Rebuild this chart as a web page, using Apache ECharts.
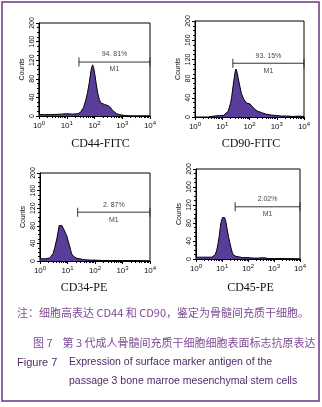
<!DOCTYPE html>
<html>
<head>
<meta charset="utf-8">
<script src="https://cdn.jsdelivr.net/npm/echarts@6/dist/echarts.min.js"></script>
<style>
  html, body { margin: 0; padding: 0; background: #fff; }
  #chart { width: 322px; height: 407px; }
</style>
</head>
<body>
<div id="chart"></div>
<script>
// fluorescence channel values (log scale) and event counts
const cd44X = [1, 1.02, 1.58, 3.16, 6.3, 10, 15.8, 25, 31.6, 40, 48, 56, 65, 76, 85, 93, 102, 115, 129, 148, 170, 200, 229, 263, 316, 380, 447, 525, 631, 794, 1000, 1259, 1995, 10000];
const cd44Counts = [80, 3, 3, 3, 4, 5, 4, 5, 8, 18, 33, 50, 72, 100, 110, 104, 91, 70, 51, 36, 28, 27, 25, 27, 22, 18, 12, 8, 5, 3, 2, 1, 0, 0];

const cd90X = [3.2, 3.5, 5, 8, 11, 13, 16.6, 20, 22, 25, 29.5, 31.6, 34.7, 39, 45, 51, 63, 78, 89, 105, 126, 158, 200, 282, 398, 646, 1000, 1514, 2512, 3981, 6310, 10000];
const cd90Counts = [0, 2, 2, 3, 3, 6, 12, 28, 40, 65, 93, 100, 94, 79, 62, 48, 36, 29, 28, 27, 22, 16, 12, 9, 6, 4, 3, 2, 2, 1, 2, 1];

const cd34X = [1, 1.02, 1.58, 2.3, 2.6, 3, 3.5, 4.1, 4.6, 5, 5.6, 6.3, 7.1, 8.1, 9.3, 10.5, 11.7, 12.9, 14, 16.2, 18.6, 22, 28, 40, 66, 100, 200, 400, 1000, 3162, 10000];
const cd34Counts = [100, 5, 5, 7, 11, 17, 32, 51, 68, 81, 85, 80, 74, 66, 58, 46, 36, 26, 17, 11, 8, 6, 5, 3, 2, 2, 1, 1, 1, 1, 0];

const cd45X = [1, 1.02, 1.58, 2.5, 4.1, 4.7, 5.5, 6.3, 7.1, 7.8, 8.5, 9.3, 10.5, 11.5, 12.6, 14.1, 15.8, 17.8, 20, 22.4, 25, 27.5, 34, 43, 63, 100, 158, 251, 398, 631, 1000, 3162, 10000];
const cd45Counts = [101, 4, 4, 4, 4, 5, 10, 20, 35, 50, 68, 83, 92, 96, 92, 83, 66, 50, 36, 24, 14, 9, 6, 5, 3, 3, 2, 2, 3, 1, 1, 1, 0];

// M1 gates: [start, end] channel and the count level where the bar sits
const gateRanges = [[27.5, 10000], [24.5, 10000], [23.4, 10000], [32, 10000]];
const gateLevels = [116, 112, 111, 116];
const gatePercents = ['94. 81%', '93. 15%', '2. 87%', '2.02%'];
const markerNames = ['CD44-FITC', 'CD90-FITC', 'CD34-PE', 'CD45-PE'];
const yTicks = [0, 40, 80, 120, 160, 200];

const fillColor = '#5a3c9a';
const frameColor = '#6b3582';

const myChart = echarts.init(document.getElementById('chart'));

const gridList = [
  { left: 39, top: 23, width: 111, height: 93 },
  { left: 195, top: 21, width: 109, height: 96 },
  { left: 40, top: 173, width: 110, height: 88 },
  { left: 196, top: 169, width: 104, height: 90 },
];
// name offsets to match where the captions sit under each plot
const namePads = [[0, 0, 0, 12], [0, 0, 0, 3], [0, 22, 0, 0], [0, 0, 0, 5]];
const nameGaps = [22, 21, 21, 23];

const histX = [cd44X, cd90X, cd34X, cd45X];
const histY = [cd44Counts, cd90Counts, cd34Counts, cd45Counts];

let xAxes = [];
let yAxes = [];
let series = [];
for (let i = 0; i < 4; i++) {
  gridList[i].show = true;
  gridList[i].borderColor = '#000';
  gridList[i].borderWidth = 1;
  gridList[i].backgroundColor = '#fff';

  xAxes.push({
    type: 'log',
    logBase: 10,
    min: 1,
    max: 10000,
    gridIndex: i,
    name: markerNames[i],
    nameLocation: 'middle',
    nameGap: nameGaps[i],
    nameTextStyle: {
      fontFamily: 'Liberation Serif',
      fontSize: 12,
      color: '#111',
      padding: namePads[i],
    },
    axisLine: { lineStyle: { color: '#000', width: 1 } },
    axisTick: { length: 3, lineStyle: { color: '#000' } },
    minorTick: { show: true, splitNumber: 9, length: 2, lineStyle: { color: '#000' } },
    splitLine: { show: false },
    axisLabel: {
      margin: 4,
      fontSize: 8,
      color: '#111',
      fontFamily: 'Liberation Sans',
      formatter: function (v) {
        return '10{s|' + Math.round(Math.log10(v)) + '}';
      },
      rich: {
        s: { fontSize: 6, verticalAlign: 'top', padding: [0, 0, 5, 0], color: '#111' },
      },
    },
  });

  yAxes.push({
    type: 'value',
    min: yTicks[0],
    max: yTicks[yTicks.length - 1],
    interval: 40,
    gridIndex: i,
    name: 'Counts',
    nameLocation: 'middle',
    nameRotate: 90,
    nameGap: 13,
    nameTextStyle: { fontSize: 7, color: '#111', fontFamily: 'Liberation Sans' },
    axisLine: { show: true, lineStyle: { color: '#000', width: 1 } },
    axisTick: { show: true, length: 3, lineStyle: { color: '#000' } },
    minorTick: { show: true, splitNumber: 4, length: 2, lineStyle: { color: '#000' } },
    splitLine: { show: false },
    axisLabel: {
      rotate: 90,
      margin: 3,
      fontSize: 7,
      color: '#111',
      fontFamily: 'Liberation Sans',
    },
  });

  let pts = [];
  for (let k = 0; k < histX[i].length; k++) {
    pts.push([histX[i][k], histY[i][k]]);
  }
  series.push({
    type: 'line',
    xAxisIndex: i,
    yAxisIndex: i,
    data: pts,
    showSymbol: false,
    lineStyle: { color: '#000', width: 1 },
    areaStyle: { color: fillColor, opacity: 1 },
    z: 2,
  });

  // M1 gate bar with end ticks
  let g = gateRanges[i];
  series.push({
    type: 'line',
    xAxisIndex: i,
    yAxisIndex: i,
    data: [[g[0], gateLevels[i]], [g[1], gateLevels[i]]],
    symbol: 'rect',
    symbolSize: [1, 9],
    itemStyle: { color: '#333' },
    lineStyle: { color: '#333', width: 1 },
    clip: false,
    z: 3,
  });

  // percentage above the gate, M1 below it
  let mid = Math.sqrt(g[0] * g[1]);
  series.push({
    type: 'scatter',
    xAxisIndex: i,
    yAxisIndex: i,
    symbolSize: 0,
    data: [
      { value: [mid, gateLevels[i]], label: { formatter: gatePercents[i], position: 'top', distance: 4 } },
      { value: [mid, gateLevels[i]], label: { formatter: 'M1', position: 'bottom', distance: 4 } },
    ],
    label: { show: true, fontSize: 7, color: '#111', fontFamily: 'Liberation Sans' },
    silent: true,
    z: 4,
  });
}

let option = {
  backgroundColor: '#fff',
  animation: false,
  grid: gridList,
  xAxis: xAxes,
  yAxis: yAxes,
  series: series,
  graphic: [
    {
      type: 'rect',
      shape: { x: 2, y: 2, width: 317, height: 399 },
      style: { fill: 'none', stroke: frameColor, lineWidth: 1.5 },
      silent: true,
    },
    {
      type: 'text',
      left: 17,
      top: 307,
      style: {
        text: '注：细胞高表达 CD44 和 CD90，鉴定为骨髓间充质干细胞。',
        font: '11px "Noto Sans CJK SC"',
        fill: '#7d4a95',
      },
    },
    {
      type: 'text',
      left: 33,
      top: 337,
      style: {
        text: '图 7    第 3 代成人骨髓间充质干细胞细胞表面标志抗原表达',
        font: '11px "Noto Sans CJK SC"',
        fill: '#7d4a95',
      },
    },
    {
      type: 'text',
      left: 17,
      top: 357,
      style: { text: 'Figure 7', font: '11px "Liberation Sans"', fill: '#4e2a6a' },
    },
    {
      type: 'text',
      left: 69,
      top: 357,
      style: { text: 'Expression of surface marker antigen of the', font: '10.5px "Liberation Sans"', fill: '#4e2a6a' },
    },
    {
      type: 'text',
      left: 69,
      top: 376,
      style: { text: 'passage 3 bone marroe mesenchymal stem cells', font: '10.5px "Liberation Sans"', fill: '#4e2a6a' },
    },
  ],
};

myChart.setOption(option);
</script>
</body>
</html>
